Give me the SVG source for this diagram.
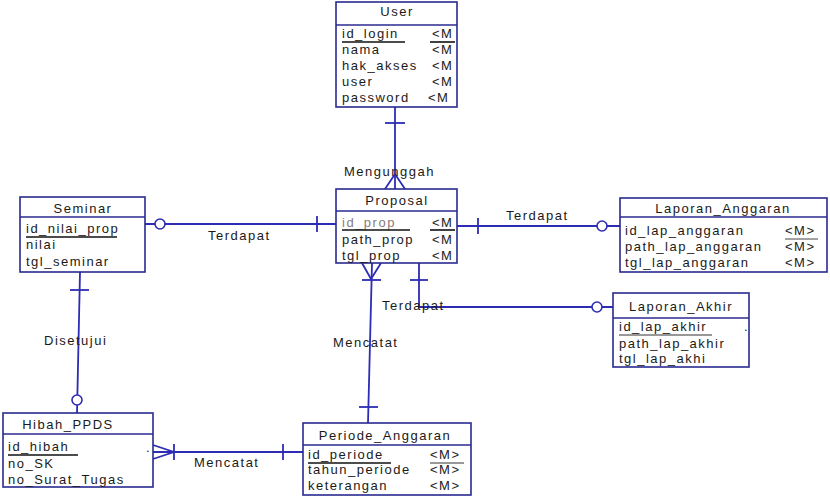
<svg xmlns="http://www.w3.org/2000/svg" width="830" height="498" viewBox="0 0 830 498">
<style>
.box{fill:#fff;stroke:#2a2a90;stroke-width:1.6}
.div{stroke:#2a2a90;stroke-width:1.4}
.ln{fill:none;stroke:#2c2cb4;stroke-width:1.8}
.circ{fill:#fff;stroke:#2c2cb4;stroke-width:1.6}
text{font-family:"Liberation Sans",Arial,sans-serif;font-size:13px;fill:#1a1a1a;letter-spacing:1.5px}
.t{text-anchor:middle}
.pk{stroke:#111;stroke-width:1.6}
</style>
<rect width="830" height="498" fill="#fff"/>
<g id="connectors">
  <line class="ln" x1="395" y1="107" x2="395" y2="189"/>
  <line class="ln" x1="385" y1="123" x2="405" y2="123"/>
  <polyline class="ln" points="385,189 395,174 405,189"/>
  <text x="344" y="176">Mengunggah</text>
  <line class="ln" x1="145" y1="224" x2="336" y2="224"/>
  <circle class="circ" cx="160" cy="224" r="5"/>
  <line class="ln" x1="317" y1="216" x2="317" y2="232"/>
  <text x="208" y="240">Terdapat</text>
  <line class="ln" x1="457" y1="226" x2="620" y2="226"/>
  <line class="ln" x1="478" y1="218" x2="478" y2="234"/>
  <circle class="circ" cx="602" cy="226" r="5"/>
  <text x="506" y="220">Terdapat</text>
  <polyline class="ln" points="419,263 419,307 613,307"/>
  <line class="ln" x1="410" y1="280" x2="428" y2="280"/>
  <circle class="circ" cx="597" cy="307" r="5"/>
  <text x="382" y="310">Terdapat</text>
  <line class="ln" x1="372" y1="263" x2="368" y2="423"/>
  <polyline class="ln" points="362,263 371,279 381,263"/>
  <line class="ln" x1="362" y1="280" x2="381" y2="280"/>
  <line class="ln" x1="359" y1="407" x2="378" y2="407"/>
  <text x="333" y="347">Mencatat</text>
  <line class="ln" x1="80" y1="272" x2="77" y2="413"/>
  <line class="ln" x1="70" y1="290" x2="89" y2="290"/>
  <circle class="circ" cx="77" cy="400" r="5"/>
  <text x="44" y="345">Disetujui</text>
  <line class="ln" x1="153" y1="452" x2="303" y2="452"/>
  <polyline class="ln" points="153,445 174,452 153,459"/>
  <line class="ln" x1="174" y1="444" x2="174" y2="460"/>
  <line class="ln" x1="283" y1="444" x2="283" y2="460"/>
  <text x="194" y="467">Mencatat</text>
</g>
<g id="User">
  <rect class="box" x="336" y="2" width="121" height="105"/>
  <line class="div" x1="336" y1="25" x2="457" y2="25"/>
  <text class="t" x="397" y="16">User</text>
  <text x="342" y="38">id_login</text><text x="432" y="38">&lt;M</text>
  <line class="pk" x1="342" y1="42" x2="405" y2="42"/><line class="pk" x1="430" y1="42" x2="455" y2="42"/>
  <text x="342" y="54">nama</text><text x="432" y="54">&lt;M</text>
  <text x="342" y="70">hak_akses</text><text x="432" y="70">&lt;M</text>
  <text x="342" y="86">user</text><text x="432" y="86">&lt;M</text>
  <text x="342" y="102">password</text><text x="428" y="102">&lt;M</text>
</g>
<g id="Proposal">
  <rect class="box" x="336" y="189" width="121" height="74"/>
  <line class="div" x1="336" y1="211" x2="457" y2="211"/>
  <text class="t" x="397" y="205">Proposal</text>
  <text x="342" y="227" style="fill:#8a7a7a">id_prop</text><text x="432" y="227">&lt;M</text>
  <line class="pk" x1="342" y1="230" x2="410" y2="230"/><line class="pk" x1="430" y1="230" x2="455" y2="230"/>
  <text x="342" y="244">path_prop</text><text x="432" y="244">&lt;M</text>
  <text x="342" y="260">tgl_prop</text><text x="432" y="260">&lt;M</text>
</g>
<g id="Seminar">
  <rect class="box" x="20" y="197" width="125" height="75"/>
  <line class="div" x1="20" y1="217" x2="145" y2="217"/>
  <text class="t" x="83" y="213">Seminar</text>
  <text x="26" y="233">id_nilai_prop</text>
  <line class="pk" x1="26" y1="237" x2="117" y2="237"/>
  <text x="26" y="249">nilai</text>
  <text x="26" y="266">tgl_seminar</text>
</g>
<g id="Laporan_Anggaran">
  <rect class="box" x="620" y="198" width="207" height="74"/>
  <line class="div" x1="620" y1="217" x2="827" y2="217"/>
  <text class="t" x="723" y="213">Laporan_Anggaran</text>
  <text x="625" y="235">id_lap_anggaran</text><text x="785" y="235">&lt;M&gt;</text>
  <line x1="785" y1="239" x2="818" y2="239" stroke="#444" stroke-width="1"/>
  <text x="625" y="251">path_lap_anggaran</text><text x="785" y="251">&lt;M&gt;</text>
  <text x="625" y="267">tgl_lap_anggaran</text><text x="785" y="267">&lt;M&gt;</text>
</g>
<g id="Laporan_Akhir">
  <rect class="box" x="613" y="293" width="136" height="74"/>
  <line class="div" x1="613" y1="318" x2="749" y2="318"/>
  <text class="t" x="681" y="311">Laporan_Akhir</text>
  <text x="619" y="331">id_lap_akhir</text>
  <line x1="619" y1="335" x2="712" y2="335" stroke="#333" stroke-width="1"/>
  <text x="744" y="331">.</text>
  <text x="619" y="348">path_lap_akhir</text>
  <text x="619" y="363">tgl_lap_akhi</text>
</g>
<g id="Periode_Anggaran">
  <rect class="box" x="303" y="423" width="168" height="72"/>
  <line class="div" x1="303" y1="445" x2="471" y2="445"/>
  <text class="t" x="385" y="440">Periode_Anggaran</text>
  <text x="308" y="459">id_periode</text><text x="430" y="459">&lt;M&gt;</text>
  <line class="pk" x1="308" y1="463" x2="391" y2="463"/><line x1="430" y1="463" x2="464" y2="463" stroke="#333" stroke-width="1"/>
  <text x="308" y="474">tahun_periode</text><text x="430" y="474">&lt;M&gt;</text>
  <text x="308" y="490">keterangan</text><text x="430" y="490">&lt;M&gt;</text>
</g>
<g id="Hibah_PPDS">
  <rect class="box" x="3" y="413" width="150" height="74"/>
  <line class="div" x1="3" y1="434" x2="153" y2="434"/>
  <text class="t" x="68" y="429">Hibah_PPDS</text>
  <text x="8" y="451">id_hibah</text>
  <line class="pk" x1="8" y1="455" x2="78" y2="455"/>
  <text x="146" y="452">.</text>
  <text x="8" y="468">no_SK</text>
  <text x="8" y="484">no_Surat_Tugas</text>
</g>
</svg>
